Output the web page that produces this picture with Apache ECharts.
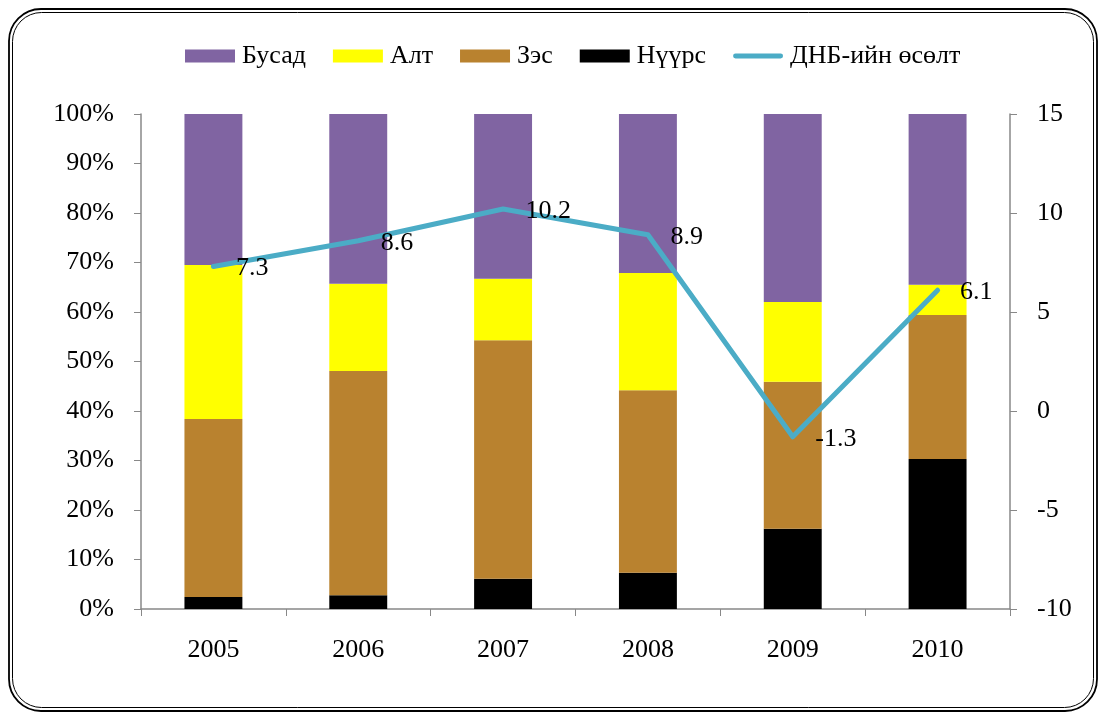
<!DOCTYPE html>
<html>
<head>
<meta charset="utf-8">
<script src="https://cdn.jsdelivr.net/npm/echarts@6/dist/echarts.min.js"></script>
<style>
  html, body { margin: 0; padding: 0; background: #fff; }
  #main { width: 1104px; height: 713px; }
</style>
</head>
<body>
<div id="main"></div>
<script>
var years = ['2005', '2006', '2007', '2008', '2009', '2010'];
// хувь, %
var nuurs = [2.4, 2.8, 6.1, 7.3, 16.2, 30.3];
var zes   = [36.0, 45.3, 48.2, 36.9, 29.7, 29.1];
var alt   = [31.1, 17.6, 12.4, 23.7, 16.1, 6.1];
var busad = [30.5, 34.3, 33.3, 32.1, 38.0, 34.5];
// ДНБ-ий өсөлт
var gdp   = [7.3, 8.6, 10.2, 8.9, -1.3, 6.1];

var font = 'Liberation Serif, Times New Roman, serif';

function barSeries(name, data, color) {
    return {
        name: name,
        type: 'bar',
        stack: 'total',
        barWidth: '40%',
        data: data,
        itemStyle: { color: color }
    };
}

var option = {
    animation: false,
    textStyle: { fontFamily: font },
    graphic: {
        elements: [
            {
                type: 'rect',
                shape: { x: 9, y: 9, width: 1088, height: 702, r: 32 },
                style: { fill: 'none', stroke: '#000', lineWidth: 1.8 }
            },
            {
                type: 'rect',
                shape: { x: 12.5, y: 12.5, width: 1081, height: 695, r: 29 },
                style: { fill: 'none', stroke: '#000', lineWidth: 1 }
            }
        ]
    },
    legend: {
        top: 38,
        left: 180,
        itemWidth: 50,
        itemHeight: 13,
        itemGap: 27,
        textStyle: { fontFamily: font, fontSize: 26, color: '#000', padding: [0, 0, 0, 2] },
        data: [
            { name: 'Бусад', icon: 'rect' },
            { name: 'Алт', icon: 'rect' },
            { name: 'Зэс', icon: 'rect' },
            { name: 'Нүүрс', icon: 'rect' },
            { name: 'ДНБ-ийн өсөлт', icon: 'path://M2,0 h46 a2.5,2.5 0 0 1 0,5 h-46 a2.5,2.5 0 0 1 0,-5 z' }
        ]
    },
    grid: { left: 141, right: 94, top: 114, bottom: 104 },
    xAxis: {
        type: 'category',
        data: years,
        axisLine: { lineStyle: { color: '#888', width: 1.5 } },
        axisTick: { show: true, length: 7, lineStyle: { color: '#888' } },
        axisLabel: { color: '#000', fontSize: 26, fontFamily: font, margin: 28 }
    },
    yAxis: [
        {
            type: 'value',
            min: 0,
            max: 100,
            interval: 10,
            axisLine: { show: true, lineStyle: { color: '#888', width: 1.5 } },
            axisTick: { show: true, length: 7, lineStyle: { color: '#888' } },
            splitLine: { show: false },
            axisLabel: { formatter: '{value}%', color: '#000', fontSize: 26, fontFamily: font, margin: 27 }
        },
        {
            type: 'value',
            min: -10,
            max: 15,
            interval: 5,
            position: 'right',
            axisLine: { show: true, lineStyle: { color: '#888', width: 1.5 } },
            axisTick: { show: true, length: 7, lineStyle: { color: '#888' } },
            splitLine: { show: false },
            axisLabel: { color: '#000', fontSize: 26, fontFamily: font, margin: 27 }
        }
    ],
    series: [
        barSeries('Нүүрс', nuurs, '#000000'),
        barSeries('Зэс', zes, '#B9822F'),
        barSeries('Алт', alt, '#FFFF00'),
        barSeries('Бусад', busad, '#8064A2'),
        {
            name: 'ДНБ-ийн өсөлт',
            type: 'line',
            yAxisIndex: 1,
            data: gdp,
            symbol: 'circle',
            symbolSize: 1,
            lineStyle: { color: '#4BACC6', width: 5, cap: 'round', join: 'round' },
            itemStyle: { color: '#4BACC6' },
            label: {
                show: true,
                position: 'right',
                distance: 22,
                offset: [0, 2],
                color: '#000',
                fontSize: 26,
                fontFamily: font
            }
        }
    ]
};

echarts.init(document.getElementById('main')).setOption(option);
</script>
</body>
</html>
